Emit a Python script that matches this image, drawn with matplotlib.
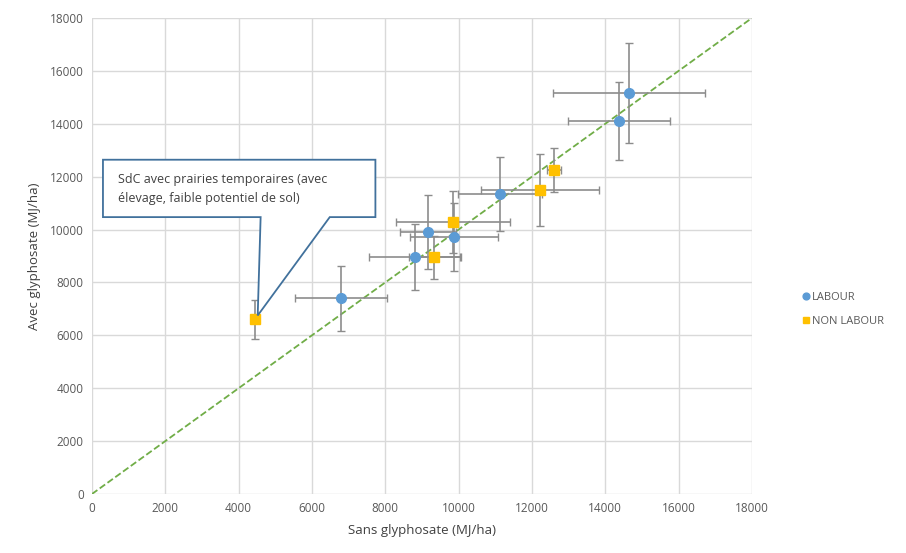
import matplotlib.pyplot as plt
from matplotlib.patches import Polygon

plt.rcParams['font.family'] = ['Open Sans', 'DejaVu Sans']

# LABOUR (blue circles)
lab_x = [6790, 8810, 9170, 9880, 11125, 14370, 14645]
lab_y = [7400, 8970, 9895, 9730, 11340, 14115, 15170]
lab_xerr = [1250, 1250, 770, 1200, 1150, 1390, 2070]
lab_yerr = [1220, 1250, 1400, 1290, 1390, 1470, 1880]

# NON LABOUR (yellow squares)
non_x = [4445, 9335, 9855, 12220, 12600]
non_y = [6600, 8950, 10295, 11495, 12250]
non_xerr = [100, 700, 1550, 1600, 190]
non_yerr = [730, 820, 1180, 1370, 830]

fig = plt.figure(figsize=(9.06, 5.53), dpi=100)
ax = fig.add_axes([0.1015, 0.1067, 0.7285, 0.8608])

ax.plot([0, 18000], [0, 18000], ls='--', c='#70AD47', lw=1.3, zorder=2)

ax.errorbar(lab_x, lab_y, xerr=lab_xerr, yerr=lab_yerr, fmt='o', ms=7,
            color='#5B9BD5', ecolor='#8C8C8C', elinewidth=1.2, capsize=3,
            label='LABOUR', zorder=4)
ax.errorbar(non_x, non_y, xerr=non_xerr, yerr=non_yerr, fmt='s', ms=7,
            color='#FFC000', ecolor='#8C8C8C', elinewidth=1.2, capsize=3,
            label='NON LABOUR', zorder=4)

# callout box
callout = Polygon([(300, 12640), (7730, 12640), (7730, 10470), (6485, 10470),
                   (4520, 6750), (4600, 10470), (300, 10470)],
                  closed=True, fc='white', ec='#41719C', lw=1.3, zorder=5)
ax.add_patch(callout)
ax.text(700, 11550, 'SdC avec prairies temporaires (avec\nélevage, faible potentiel de sol)',
        fontsize=9, color='#404040', va='center', ha='left', linespacing=1.6, zorder=6)

ax.set_xlim(0, 18000)
ax.set_ylim(0, 18000)
ax.set_xticks(range(0, 18001, 2000))
ax.set_yticks(range(0, 18001, 2000))
ax.grid(True, color='#D9D9D9', lw=1)
ax.set_axisbelow(True)
for s in ax.spines.values():
    s.set_visible(False)
ax.tick_params(length=0, labelsize=8.5, labelcolor='#595959', pad=6)

ax.set_xlabel('Sans glyphosate (MJ/ha)', fontsize=9.5, color='#404040', labelpad=6)
ax.set_ylabel('Avec glyphosate (MJ/ha)', fontsize=9.5, color='#404040', labelpad=6)

h, l = ax.get_legend_handles_labels()
h = [hh[0] for hh in h]
leg = fig.legend(h, l, loc='center left', bbox_to_anchor=(0.872, 0.44), frameon=False,
                 fontsize=8, labelcolor='#595959', handletextpad=0.1, handlelength=1,
                 markerscale=0.7, labelspacing=1.2)

fig.savefig('out.png', dpi=100)
